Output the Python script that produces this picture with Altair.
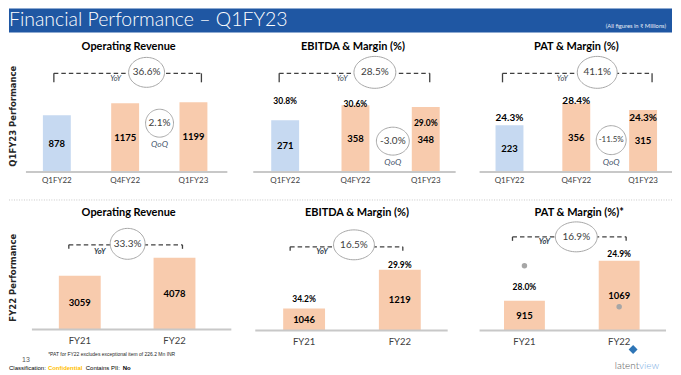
import altair as alt
import numpy as np
import pandas as pd

# ---------------- data ----------------
q_periods = ["Q1FY22", "Q4FY22", "Q1FY23"]
q_revenue = [878, 1175, 1199]
q_ebitda = [271, 358, 348]
q_ebitda_margin = [30.8, 30.6, 29.0]
q_pat = [223, 356, 315]
q_pat_margin = [24.3, 28.4, 24.3]
q_yoy = [36.6, 28.5, 41.1]       # revenue, EBITDA, PAT
q_qoq = [2.1, -3.0, -11.5]       # revenue, EBITDA, PAT

fy_periods = ["FY21", "FY22"]
fy_revenue = [3059, 4078]
fy_ebitda = [1046, 1219]
fy_ebitda_margin = [34.2, 29.9]
fy_pat = [915, 1069]
fy_pat_margin = [28.0, 24.9]
fy_yoy = [33.3, 16.5, 16.9]      # revenue, EBITDA, PAT

titles_q = ["Operating Revenue", "EBITDA & Margin (%)", "PAT & Margin (%)"]
titles_fy = ["Operating Revenue", "EBITDA & Margin (%)", "PAT & Margin (%)*"]

# ---------------- styles ----------------
HDR = "#1f57a3"
BAR_BLUE = "#c6d9f1"
BAR_PEACH = "#f8cbad"
AXIS = "#c8c8c8"
DARK = "#404040"
ELL = "#a6a6a6"
NAVY = "#333f50"
FONT = "Lato"
ONE = pd.DataFrame({"k": [0]})


def txt(x, y, s, size, weight="normal", style="normal", color="black",
        align="center", baseline="middle", font=FONT, angle=0):
    return alt.Chart(ONE).mark_text(
        text=s, fontSize=size, fontWeight=weight, fontStyle=style, color=color,
        align=align, baseline=baseline, font=font, angle=angle
    ).encode(x=alt.value(x), y=alt.value(y))


def hline(x1, x2, y, color, width, dash=None):
    kw = {"strokeDash": dash} if dash else {}
    return alt.Chart(ONE).mark_rule(color=color, strokeWidth=width, **kw).encode(
        x=alt.value(x1), x2=alt.value(x2), y=alt.value(y))


def vline(x, y1, y2, color=DARK, width=1.3):
    return alt.Chart(ONE).mark_rule(color=color, strokeWidth=width).encode(
        x=alt.value(x), y=alt.value(y1), y2=alt.value(y2))


def ellipse(cx, cy, w, h, label, fs):
    r = h / w
    ang = np.linspace(0, 2 * np.pi, 72, endpoint=False)
    path = "M" + " L".join(f"{np.cos(a):.4f},{r * np.sin(a):.4f}" for a in ang) + " Z"
    e = alt.Chart(ONE).mark_point(
        shape=path, size=w * w, filled=True, fill="white", stroke=ELL,
        strokeWidth=1, opacity=1
    ).encode(x=alt.value(cx), y=alt.value(cy))
    return [e, txt(cx, cy, label, fs, color=DARK)]


def yoy_bracket(x1, x2, y, tick, cx, cy, ew, eh, value, yx, yy, bold=False):
    layers = [hline(x1, x2, y, DARK, 1.4, [4.5, 3]),
              vline(x1, y, y + tick), vline(x2, y, y + tick)]
    layers += ellipse(cx, cy, ew, eh, f"{value:.1f}%", 10)
    layers.append(txt(yx, yy, "YoY", 7.5, weight="bold" if bold else "normal",
                      style="italic", color=NAVY))
    return layers


def qoq_bubble(cx, cy, ew, eh, value, fs, ty):
    return ellipse(cx, cy, ew, eh, f"{value:.1f}%", fs) + [
        txt(cx, ty, "QoQ", 8.5, style="italic", color="#44546a")]


def bar_layers(periods, values, xr, bw, lo, hi, base, top, lab_y, lab_size,
               axis_x, highlight=None):
    df = pd.DataFrame({"period": periods, "value": values})
    xs = alt.X("period:N", scale=alt.Scale(type="point", domain=periods,
                                             range=xr, padding=0), axis=None)
    ys = alt.Scale(domain=[lo, hi], range=[base, top], nice=False, zero=False)
    if highlight:
        color = alt.condition(alt.datum.period == highlight,
                              alt.value(BAR_BLUE), alt.value(BAR_PEACH))
    else:
        color = alt.value(BAR_PEACH)
    ch = alt.Chart(df)
    bars = ch.mark_bar(size=bw).encode(
        x=xs, y=alt.Y("value:Q", scale=ys, axis=None), y2=alt.datum(lo), color=color)
    vals = ch.transform_calculate(mid=f"(datum.value + {lo}) / 2").mark_text(
        font=FONT, fontSize=9.5, fontWeight="bold", color="black"
    ).encode(x=xs, y=alt.Y("mid:Q", scale=ys, axis=None),
             text=alt.Text("value:Q", format="d"))
    labs = ch.mark_text(font=FONT, fontSize=lab_size, color=DARK).encode(
        x=xs, y=alt.value(lab_y), text="period:N")
    axis_line = hline(axis_x[0], axis_x[1], base, AXIS, 2)
    return [bars, axis_line, vals, labs], xs


def margin_layer(periods, margins, xs, dom, rng, size):
    df = pd.DataFrame({"period": periods, "margin": margins})
    return alt.Chart(df).transform_calculate(
        lbl="format(datum.margin, '.1f') + '%'"
    ).mark_text(font=FONT, fontSize=size, fontWeight="bold", color="black").encode(
        x=xs, y=alt.Y("margin:Q", scale=alt.Scale(domain=dom, range=rng, nice=False,
                                                   zero=False), axis=None),
        text="lbl:N")


def panel(layers, w, h):
    return alt.layer(*layers).resolve_scale(y="independent").properties(width=w, height=h)


# ---------------- header ----------------
header = alt.layer(
    alt.Chart(ONE).mark_rect(color=HDR).encode(
        x=alt.value(0), x2=alt.value(665), y=alt.value(0), y2=alt.value(24)),
    txt(0, 17.5, "Financial Performance – Q1FY23", 19.5, weight=300, color="white",
        align="left", baseline="alphabetic"),
    txt(659, 18, "(All figures in ₹ Millions)", 5.8, color="#e8eef7", align="right"),
).properties(width=665, height=24)

# ---------------- row 1: quarterly ----------------
H1 = 164
L, xs = bar_layers(q_periods, q_revenue, [48, 185], 28, -530, 1199, 140, 70, 149, 8,
                   (17, 219), highlight="Q1FY22")
p1 = panel(
    yoy_bracket(45, 193, 41, 9, 138, 40, 36, 30, q_yoy[0], 107, 47)
    + L
    + qoq_bubble(151, 91, 28, 28, q_qoq[0], 10, 112)
    + [txt(120, 15, titles_q[0], 11, weight="bold"),
       txt(4.5, 84, "Q1FY23 Performance", 8.5, weight="bold", font="DejaVu Sans",
           angle=270, color="#262626")],
    224, H1)

L, xs = bar_layers(q_periods, q_ebitda, [53, 194], 28, -31, 358, 140, 73, 149, 8,
                   (21, 224), highlight="Q1FY22")
p2 = panel(
    yoy_bracket(47, 198, 41, 9, 143, 40, 42, 32, q_yoy[1], 110, 47)
    + L
    + [margin_layer(q_periods, q_ebitda_margin, xs, [29.0, 30.8], [91, 69], 8.5)]
    + qoq_bubble(161, 109, 33, 28, q_qoq[1], 10, 130)
    + [txt(121, 15, titles_q[1], 11, weight="bold")],
    225, H1)

L, xs = bar_layers(q_periods, q_pat, [53, 187], 28, -62, 356, 140, 71, 149, 8,
                   (23, 216), highlight="Q1FY22")
p3 = panel(
    yoy_bracket(46, 196, 41, 9, 141, 40, 40, 32, q_yoy[2], 106, 47)
    + L
    + [margin_layer(q_periods, q_pat_margin, xs, [24.3, 28.4], [86, 69], 10)]
    + qoq_bubble(155, 108, 30, 29, q_qoq[2], 8, 130)
    + [txt(120, 15, titles_q[2], 11, weight="bold")],
    216, H1)

# ---------------- row 2: full year ----------------
H2 = 171
SEP = [1, 1.5]
CLS_FONT = "Liberation Sans"

L, xs = bar_layers(fy_periods, fy_revenue, [71, 166], 42, 0, 4078, 134, 62, 145, 9.5,
                   (23, 223))
b1 = panel(
    [hline(0, 224, 4, AXIS, 1, SEP)]
    + yoy_bracket(60, 174, 49, 4, 119, 48, 35, 31, fy_yoy[0], 91, 56, bold=True)
    + L
    + [txt(120, 17, titles_fy[0], 11, weight="bold"),
       txt(4.5, 82, "FY22 Performance", 8.5, weight="bold", font="DejaVu Sans",
           angle=270, color="#262626"),
       txt(103, 159, "*PAT for FY22 excludes exceptional item of 226.2 Mn INR", 5,
           font="Liberation Sans", color="#262626"),
       txt(17, 165, "13", 7, color="#595959", font="Liberation Sans"),
       txt(0, 173, "Classification:", 6, align="left", font=CLS_FONT),
       txt(39, 173, "Confidential", 6, weight="bold", color="#ffc000", align="left",
           font=CLS_FONT),
       txt(77, 173, "Contains PII:", 6, align="left", font=CLS_FONT),
       txt(114, 173, "No", 6, weight="bold", align="left", font=CLS_FONT)],
    224, H2)

L, xs = bar_layers(fy_periods, fy_ebitda, [72, 168], 42, 948, 1219, 135, 74, 146, 9.5,
                   (23, 216))
b2 = panel(
    [hline(0, 225, 4, AXIS, 1, SEP)]
    + yoy_bracket(58, 171, 51, 4, 122, 49, 41, 30, fy_yoy[1], 90, 56, bold=True)
    + L
    + [margin_layer(fy_periods, fy_ebitda_margin, xs, [29.9, 34.2], [69, 103], 8.5),
       txt(125, 17, titles_fy[1], 11, weight="bold")],
    225, H2)

L, xs = bar_layers(fy_periods, fy_pat, [68, 163], 41, 800, 1069, 135, 65, 146, 9.5,
                   (23, 210))
dots = alt.Chart(pd.DataFrame({"period": fy_periods, "margin": fy_pat_margin})).mark_circle(
    color=ELL, size=30, opacity=1
).encode(x=xs, y=alt.Y("margin:Q", scale=alt.Scale(domain=[24.9, 28.0], range=[111, 70],
                                                    nice=False, zero=False), axis=None))
b3 = panel(
    [hline(0, 216, 4, AXIS, 1, SEP)]
    + yoy_bracket(56, 170, 41, 4, 120, 41, 42, 30, fy_yoy[2], 88, 46, bold=True)
    + L
    + [dots,
       margin_layer(fy_periods, fy_pat_margin, xs, [24.9, 28.0], [58, 91], 8.5),
       txt(123, 17, titles_fy[2], 11, weight="bold"),
       alt.Chart(ONE).mark_point(shape="diamond", filled=True, color="#2e75b6", size=80,
                                 opacity=1).encode(x=alt.value(177), y=alt.value(154)),
       txt(183, 171, "latent", 10, weight=300, color="#595959", align="right"),
       txt(183, 171, "view", 10, weight=300, color="#7fb2e5", align="left")],
    216, H2)

row1 = alt.hconcat(p1, p2, p3, spacing=0, bounds="flush")
row2 = alt.hconcat(b1, b2, b3, spacing=0, bounds="flush")

chart = alt.vconcat(header, row1, row2, spacing=0, bounds="full").properties(
    padding=0, background="white"
).configure_view(stroke=None)

chart.save("out.html", embed_options={"renderer": "svg", "actions": False})
